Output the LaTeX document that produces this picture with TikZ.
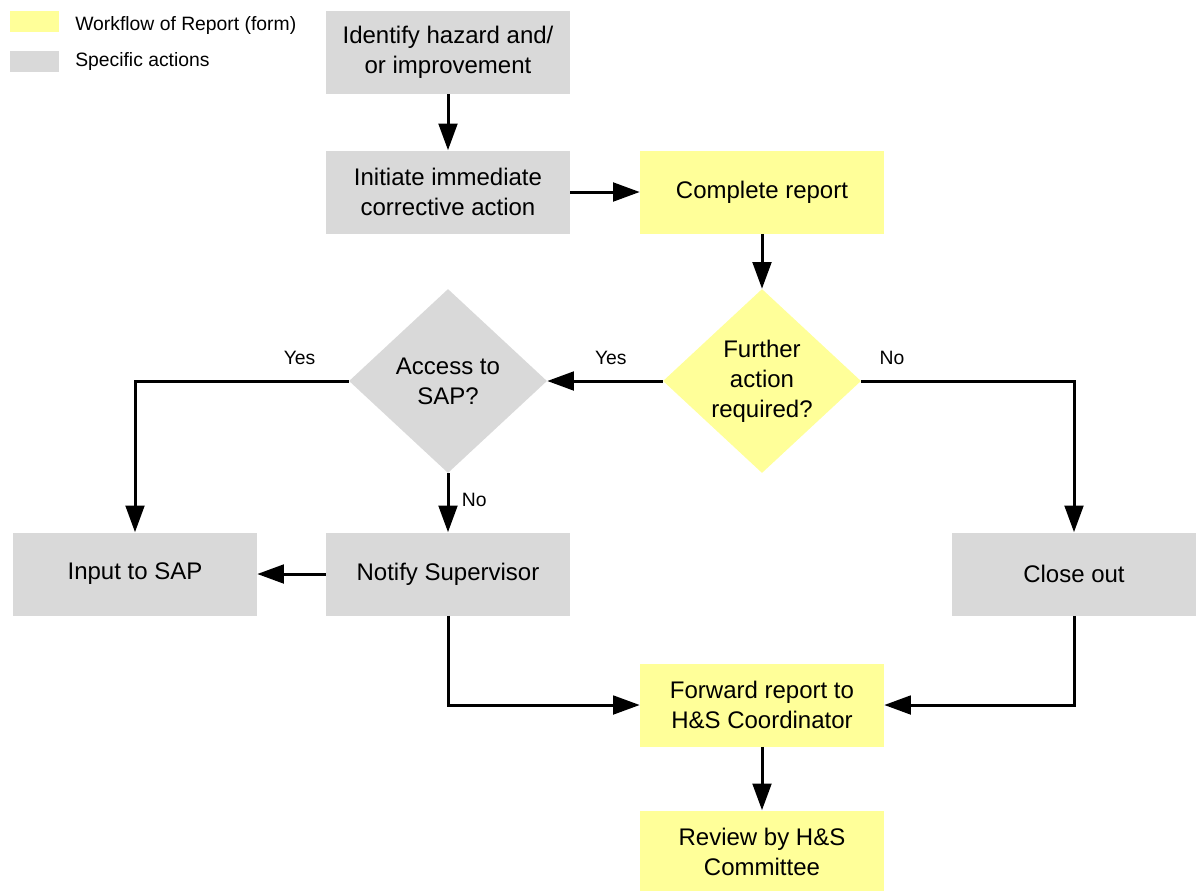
\documentclass[tikz,border=0pt]{standalone}
\usepackage{fontspec}
\setmainfont{Liberation Sans}
\usepackage{tikz}
\usetikzlibrary{arrows.meta,shapes.geometric}
\definecolor{formyellow}{HTML}{FFFF99}
\definecolor{actiongray}{HTML}{D9D9D9}

\begin{document}
\begin{tikzpicture}[
    x=0.75pt, y=-0.75pt,
    box/.style={rectangle, minimum width=183pt, minimum height=62.25pt, inner sep=0pt,
      align=center, font=\fontsize{18}{22.5}\selectfont},
    action/.style={box, fill=actiongray},
    report/.style={box, fill=formyellow},
    decision/.style={diamond, minimum width=148.5pt, minimum height=138pt, inner sep=0pt,
      align=center, font=\fontsize{18}{22.5}\selectfont},
    flow/.style={line width=2.25pt, -{Triangle[length=20pt,width=14pt]}},
    lbl/.style={font=\fontsize{14.5}{17}\selectfont},
  ]
  \useasboundingbox (0,0) rectangle (1200,890);
  % legende
  \node[fill=formyellow, minimum width=36.75pt, minimum height=15.75pt, inner sep=0pt] (keyform) at (34.5,21.5) {};
  \node[fill=actiongray, minimum width=36.75pt, minimum height=15.75pt, inner sep=0pt] (keyaction) at (34.5,61.5) {};
  \node[lbl, anchor=west, inner sep=0pt] (keyformtext) at (75,25) {Workflow of Report (form)};
  \node[lbl, anchor=west, inner sep=0pt] (keyactiontext) at (75,61) {Specific actions};

  \node[action] (identify) at (448,52.5) {Identify hazard and/\\or improvement};
  \node[action] (initiate) at (448,192) {Initiate immediate\\corrective action};
  \node[report] (complete) at (762,192) {Complete report};
  \node[decision, fill=formyellow] (further) at (762,381) {Further\\action\\required?};
  \node[decision, fill=actiongray] (access) at (448,381) {Access to\\SAP?};
  \node[action] (input) at (135,574) {Input to SAP};
  \node[action] (notify) at (448,574) {Notify Supervisor};
  \node[action] (closeout) at (1074,574) {Close out};
  \node[report] (forward) at (762,705) {Forward report to\\H\&S Coordinator};
  \node[report] (review) at (762,852) {Review by H\&S\\Committee};

  \draw[flow] (identify) -- (initiate);
  \draw[flow] (initiate) -- (complete);
  \draw[flow] (complete) -- (further);
  \draw[flow] (further.west) -- node[lbl, above=8pt, pos=0.45] (yesfurther) {Yes} (access.east);
  \draw[flow] (further.east) -| node[lbl, above=8pt, pos=0.072] (nofurther) {No} (closeout.north);
  \draw[flow] (access.west) -| node[lbl, above=8pt, pos=0.115] (yesaccess) {Yes} (input.north);
  \draw[flow] (access.south) -- node[lbl, right=6pt, pos=0.45] (noaccess) {No} (notify.north);
  \draw[flow] (notify.west) -- (input.east);
  \draw[flow] (notify.south) |- (forward.west);
  \draw[flow] (closeout.south) |- (forward.east);
  \draw[flow] (forward) -- (review);
\end{tikzpicture}
\end{document}
